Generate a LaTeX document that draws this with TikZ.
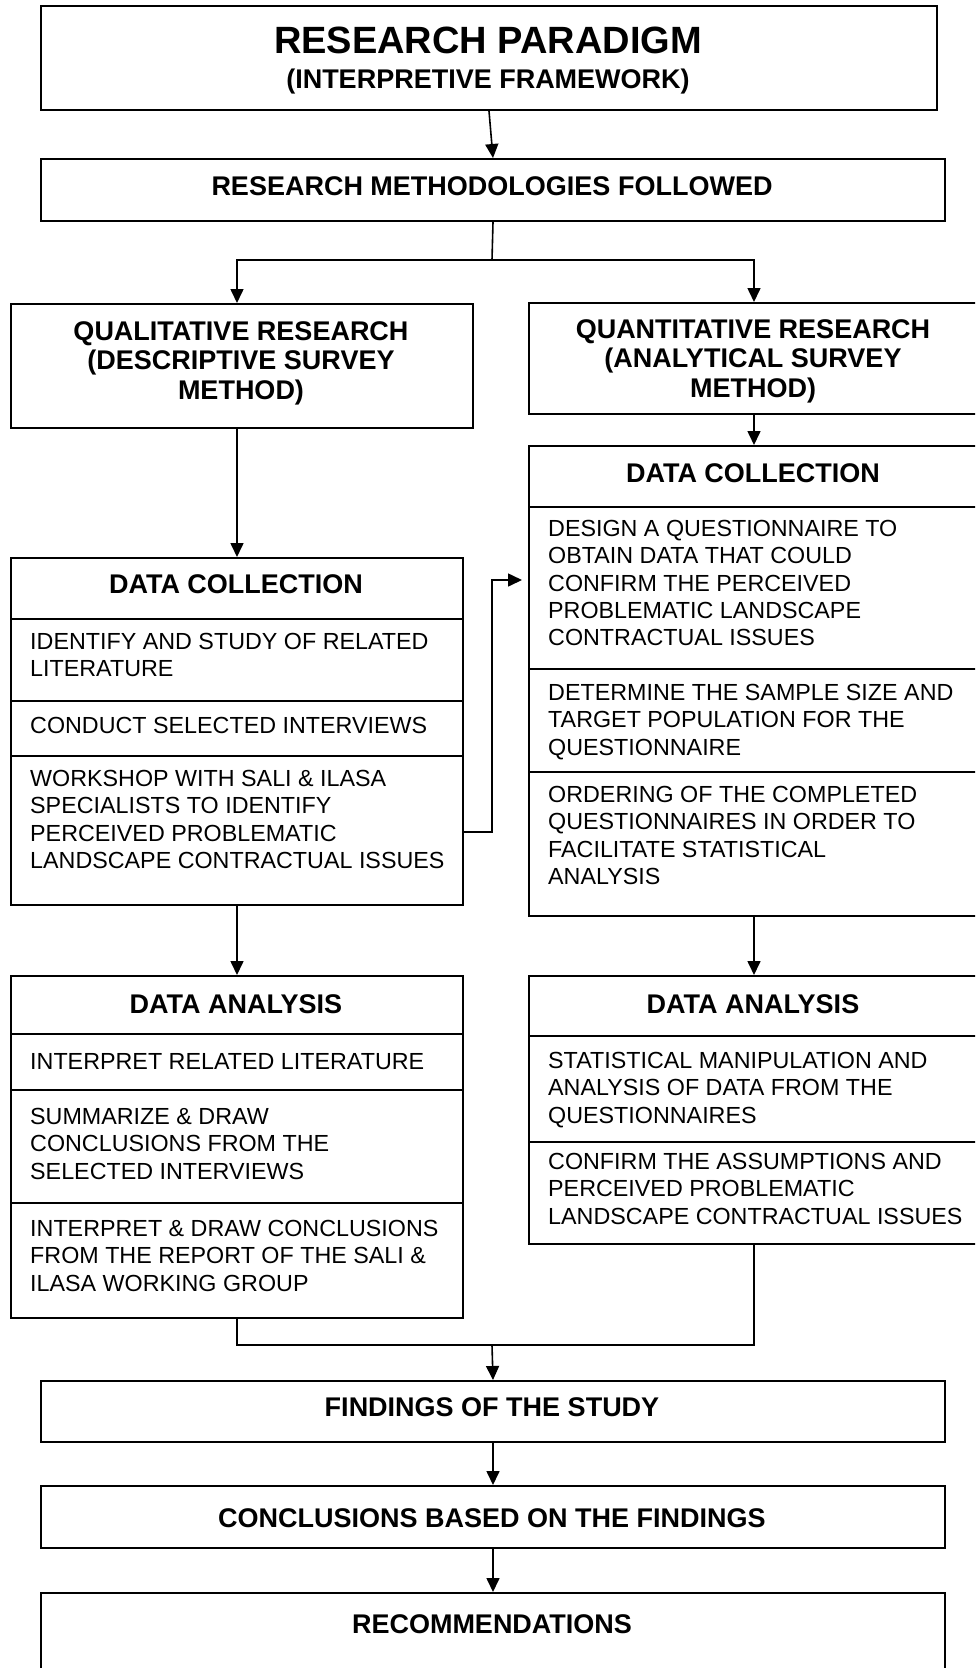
\documentclass[tikz,border=0pt]{standalone}
\usepackage{fontspec}
\setmainfont{Liberation Sans}
\usetikzlibrary{arrows.meta}
\begin{document}
\begin{tikzpicture}[x=1pt,y=-1pt,
  box/.style={draw, line width=2pt, rectangle, inner sep=0pt, anchor=north west},
  sep/.style={line width=1.7pt},
  hd/.style={font=\bfseries\fontsize{27}{29.5}\selectfont, inner sep=0pt, anchor=base},
  hdm/.style={font=\bfseries\fontsize{27}{29.5}\selectfont, inner sep=0pt, anchor=north, align=center, execute at begin node=\strut},
  ttl/.style={font=\bfseries\fontsize{38}{44}\selectfont, inner sep=0pt, anchor=base},
  bd/.style={font=\fontsize{23.3}{27.3}\selectfont, inner sep=0pt, anchor=north west, align=left, execute at begin node=\strut},
  conn/.style={line width=1.6pt},
  arr/.style={conn, -{Triangle[length=14pt,width=13pt]}}
]
\useasboundingbox (0,0) rectangle (975,1668);
\clip (0,0) rectangle (975,1668);
\fill[white] (0,0) rectangle (975,1668);

% ---- top of the framework ----
\node[box, minimum width=896pt, minimum height=104pt] (rp) at (40,5) {};
\node[ttl] (rpT) at (488,53.6) {RESEARCH PARADIGM};
\node[hd] (rpS) at (488,88.7) {(INTERPRETIVE FRAMEWORK)};

\node[box, minimum width=904pt, minimum height=62pt] (rm) at (40,158) {};
\node[hd] (rmT) at (492,195.7) {RESEARCH METHODOLOGIES FOLLOWED};

% ---- the two research streams ----
\node[box, minimum width=462pt, minimum height=124pt] (qual) at (10,303) {};
\node[hdm] (qualT) at (241,321) {QUALITATIVE RESEARCH\\(DESCRIPTIVE SURVEY\\METHOD)};

\node[box, minimum width=450pt, minimum height=111pt] (quant) at (528,302) {};
\node[hdm] (quantT) at (753,319) {QUANTITATIVE RESEARCH\\(ANALYTICAL SURVEY\\METHOD)};

% ---- data collection, qualitative ----
\node[box, minimum width=452pt, minimum height=347pt] (dcL) at (10,557) {};
\node[hd] (dcLT) at (236,593.7) {DATA COLLECTION};
\foreach \yy in {619,701,756} \draw[sep] (dcL.west |- 0,\yy) -- (dcL.east |- 0,\yy);
\node[bd] (dcL1) at (30,633.2) {IDENTIFY AND STUDY OF RELATED\\LITERATURE};
\node[bd] (dcL2) at (30,714.2) {CONDUCT SELECTED INTERVIEWS};
\node[bd] (dcL3) at (30,770.2) {WORKSHOP WITH SALI \& ILASA\\SPECIALISTS TO IDENTIFY\\PERCEIVED PROBLEMATIC\\LANDSCAPE CONTRACTUAL ISSUES};

% ---- data collection, quantitative ----
\node[box, minimum width=450pt, minimum height=470pt] (dcR) at (528,445) {};
\node[hd] (dcRT) at (753,482.7) {DATA COLLECTION};
\foreach \yy in {507,669,772} \draw[sep] (dcR.west |- 0,\yy) -- (dcR.east |- 0,\yy);
\node[bd] (dcR1) at (548,520.2) {DESIGN A QUESTIONNAIRE TO\\OBTAIN DATA THAT COULD\\CONFIRM THE PERCEIVED\\PROBLEMATIC LANDSCAPE\\CONTRACTUAL ISSUES};
\node[bd] (dcR2) at (548,684.2) {DETERMINE THE SAMPLE SIZE AND\\TARGET POPULATION FOR THE\\QUESTIONNAIRE};
\node[bd] (dcR3) at (548,786.2) {ORDERING OF THE COMPLETED\\QUESTIONNAIRES IN ORDER TO\\FACILITATE STATISTICAL\\ANALYSIS};

% ---- data analysis, qualitative ----
\node[box, minimum width=452pt, minimum height=342pt] (daL) at (10,975) {};
\node[hd] (daLT) at (236,1013.7) {DATA ANALYSIS};
\foreach \yy in {1034,1090,1203} \draw[sep] (daL.west |- 0,\yy) -- (daL.east |- 0,\yy);
\node[bd] (daL1) at (30,1050.2) {INTERPRET RELATED LITERATURE};
\node[bd] (daL2) at (30,1108.2) {SUMMARIZE \& DRAW\\CONCLUSIONS FROM THE\\SELECTED INTERVIEWS};
\node[bd] (daL3) at (30,1220.2) {INTERPRET \& DRAW CONCLUSIONS\\FROM THE REPORT OF THE SALI \&\\ILASA WORKING GROUP};

% ---- data analysis, quantitative ----
\node[box, minimum width=450pt, minimum height=268pt] (daR) at (528,975) {};
\node[hd] (daRT) at (753,1013.7) {DATA ANALYSIS};
\foreach \yy in {1036,1142} \draw[sep] (daR.west |- 0,\yy) -- (daR.east |- 0,\yy);
\node[bd] (daR1) at (548,1052.2) {STATISTICAL MANIPULATION AND\\ANALYSIS OF DATA FROM THE\\QUESTIONNAIRES};
\node[bd] (daR2) at (548,1153.2) {CONFIRM THE ASSUMPTIONS AND\\PERCEIVED PROBLEMATIC\\LANDSCAPE CONTRACTUAL ISSUES};

% ---- closing stages ----
\node[box, minimum width=904pt, minimum height=61pt] (find) at (40,1380) {};
\node[hd] (findT) at (492,1416.7) {FINDINGS OF THE STUDY};
\node[box, minimum width=904pt, minimum height=62pt] (concl) at (40,1485) {};
\node[hd] (conclT) at (492,1527.7) {CONCLUSIONS BASED ON THE FINDINGS};
\node[box, minimum width=904pt, minimum height=100pt] (rec) at (40,1592) {};
\node[hd] (recT) at (492,1633.7) {RECOMMENDATIONS};

% ---- connectors ----
\coordinate (split) at (492,260);
\coordinate (wsOut) at (462,832);
\coordinate (wsBend) at (492,580);
\coordinate (wsIn) at (522,580);
\coordinate (join) at (492,1345);

\draw[arr] (rp.south) -- (rm.north);
\draw[conn] (rm.south) -- (split);
\draw[arr] (split) -| (qual.north -| dcL.north);
\draw[arr] (split) -| (quant.north);
\draw[arr] (qual.south -| dcL.north) -- (dcL.north);
\draw[arr] (quant.south) -- (dcR.north);
\draw[arr] (wsOut) -| (wsBend) -- (wsIn);
\draw[arr] (dcL.south) -- (daL.north);
\draw[arr] (dcR.south) -- (daR.north);
\draw[conn] (daL.south) |- (join) -| (daR.south);
\draw[arr] (join) -- (find.north);
\draw[arr] (find.south) -- (concl.north);
\draw[arr] (concl.south) -- (rec.north);
\end{tikzpicture}
\end{document}
